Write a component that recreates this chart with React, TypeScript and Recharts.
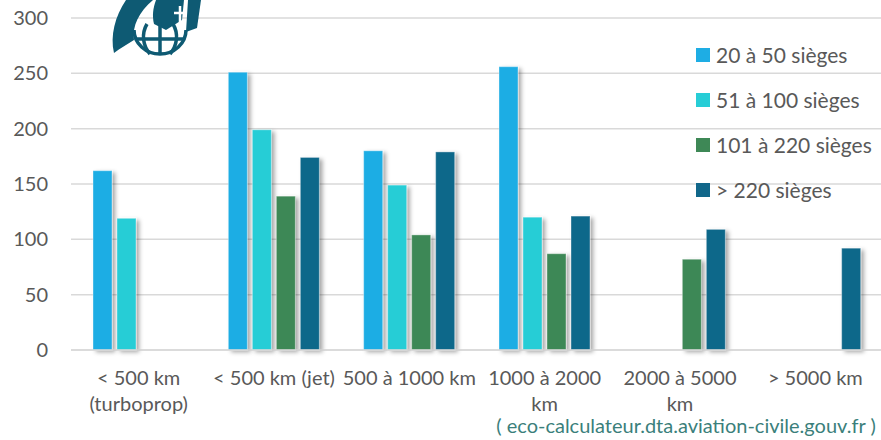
import { BarChart, Bar, XAxis, YAxis, CartesianGrid } from 'recharts'

const categories = [
  '< 500 km\n(turboprop)',
  '< 500 km (jet)',
  '500 à 1000 km',
  '1000 à 2000\nkm',
  '2000 à 5000\nkm',
  '> 5000 km',
]

const seats20to50 = [162, 251, 180, 256, null, null]
const seats51to100 = [119, 199, 149, 120, null, null]
const seats101to220 = [null, 139, 104, 87, 82, null]
const seatsOver220 = [null, 174, 179, 121, 109, 92]

const yTicks = [0, 50, 100, 150, 200, 250, 300]

const series = [
  { key: 's1', name: '20 à 50 sièges', color: '#1eade4', values: seats20to50 },
  { key: 's2', name: '51 à 100 sièges', color: '#27cdd6', values: seats51to100 },
  { key: 's3', name: '101 à 220 sièges', color: '#3e8856', values: seats101to220 },
  { key: 's4', name: '> 220 sièges', color: '#11678a', values: seatsOver220 },
]

const data = categories.map((c, i) => {
  const row: Record<string, string | number | null> = { category: c }
  series.forEach((s) => {
    row[s.key] = s.values[i]
  })
  return row
})

const FONT = 'Lato, "Noto Sans", sans-serif'
const TEXT = '#595959'

// eslint-disable-next-line @typescript-eslint/no-explicit-any
function CategoryTick({ x, y, payload }: any) {
  const lines = String(payload.value).split('\n')
  return (
    <text x={x} y={y} textAnchor="middle" fill={TEXT} fontSize={20} fontFamily={FONT}>
      {lines.map((l, i) => (
        <tspan key={i} x={x} dy={i === 0 ? 27 : 26}>
          {l}
        </tspan>
      ))}
    </text>
  )
}

// eslint-disable-next-line @typescript-eslint/no-explicit-any
function ShadowBar(props: any) {
  const { x, y, width, height, fill } = props
  if (!height || height <= 0) return null
  return (
    <rect
      x={x}
      y={y}
      width={width}
      height={height}
      fill={fill}
      stroke="rgba(255,255,255,0.35)"
      strokeWidth={1}
      filter="url(#barShadow)"
    />
  )
}

function SideLegend() {
  return (
    <div style={{ position: 'absolute', left: 696, top: 32, fontFamily: FONT, fontSize: 21, color: TEXT }}>
      {series.map((s) => (
        <div key={s.key} style={{ display: 'flex', alignItems: 'center', height: 45, whiteSpace: 'nowrap' }}>
          <span style={{ width: 14, height: 14, background: s.color, marginRight: 6, display: 'inline-block' }} />
          <span>{s.name}</span>
        </div>
      ))}
    </div>
  )
}

function Logo() {
  return (
    <svg width={110} height={60} style={{ position: 'absolute', left: 100, top: 0 }} viewBox="0 0 110 60">
      <g fill="#0e5a73" stroke="none">
        <path d="M14 53 C10 36 15 16 26 0 L53 0 C39 12 32 26 34 40 C28 44 20 48 14 53 Z" />
        <path d="M56 0 L84 0 L82 20 L66 30 L54 24 C52 16 53 8 56 0 Z" />
        <path d="M88 0 L101 0 L97 28 L86 32 Z" />
      </g>
      <g fill="none" stroke="#fff" strokeWidth={2.5}>
        <path d="M80 6 L80 26 M74 13 L87 13" />
      </g>
      <g fill="none" stroke="#0e5a73" strokeWidth={3.5}>
        <path d="M34 30 A26 24 0 0 0 86 30" />
        <path d="M60 22 L60 55" />
        <path d="M36 39 L84 39" />
        <path d="M47 24 C41 34 43 46 50 54" />
        <path d="M73 24 C79 34 77 46 70 54" />
      </g>
    </svg>
  )
}

export default function App() {
  return (
    <div style={{ position: 'absolute', left: 0, top: 0, width: 881, height: 440, background: '#fff' }}>
      <BarChart
        width={883}
        height={440}
        data={data}
        margin={{ top: 18, right: 0, bottom: 0, left: 0 }}
        barCategoryGap={22}
        barGap={5}
      >
        <defs>
          <filter id="barShadow" x="-30%" y="-10%" width="180%" height="130%">
            <feDropShadow dx={3} dy={2} stdDeviation={2} floodColor="#000" floodOpacity={0.35} />
          </filter>
        </defs>
        <CartesianGrid vertical={false} stroke="#d9d9d9" strokeWidth={1.5} />
        <XAxis
          dataKey="category"
          interval={0}
          height={90}
          tickLine={false}
          axisLine={{ stroke: '#d9d9d9', strokeWidth: 1.5 }}
          tick={<CategoryTick />}
        />
        <YAxis
          domain={[0, 300]}
          ticks={yTicks}
          width={71}
          tickLine={false}
          axisLine={false}
          tickMargin={17}
          tick={{ fill: TEXT, fontSize: 20, fontFamily: FONT }}
        />
        {series.map((s) => (
          <Bar
            key={s.key}
            dataKey={s.key}
            name={s.name}
            fill={s.color}
            shape={<ShadowBar />}
            isAnimationActive={false}
          />
        ))}
      </BarChart>
      <Logo />
      <SideLegend />
      <div
        style={{
          position: 'absolute',
          left: 486,
          top: 413,
          width: 400,
          textAlign: 'center',
          fontFamily: FONT,
          fontSize: 20,
          color: '#3b7f7b',
          whiteSpace: 'nowrap',
        }}
      >
        ( eco-calculateur.dta.aviation-civile.gouv.fr )
      </div>
    </div>
  )
}
